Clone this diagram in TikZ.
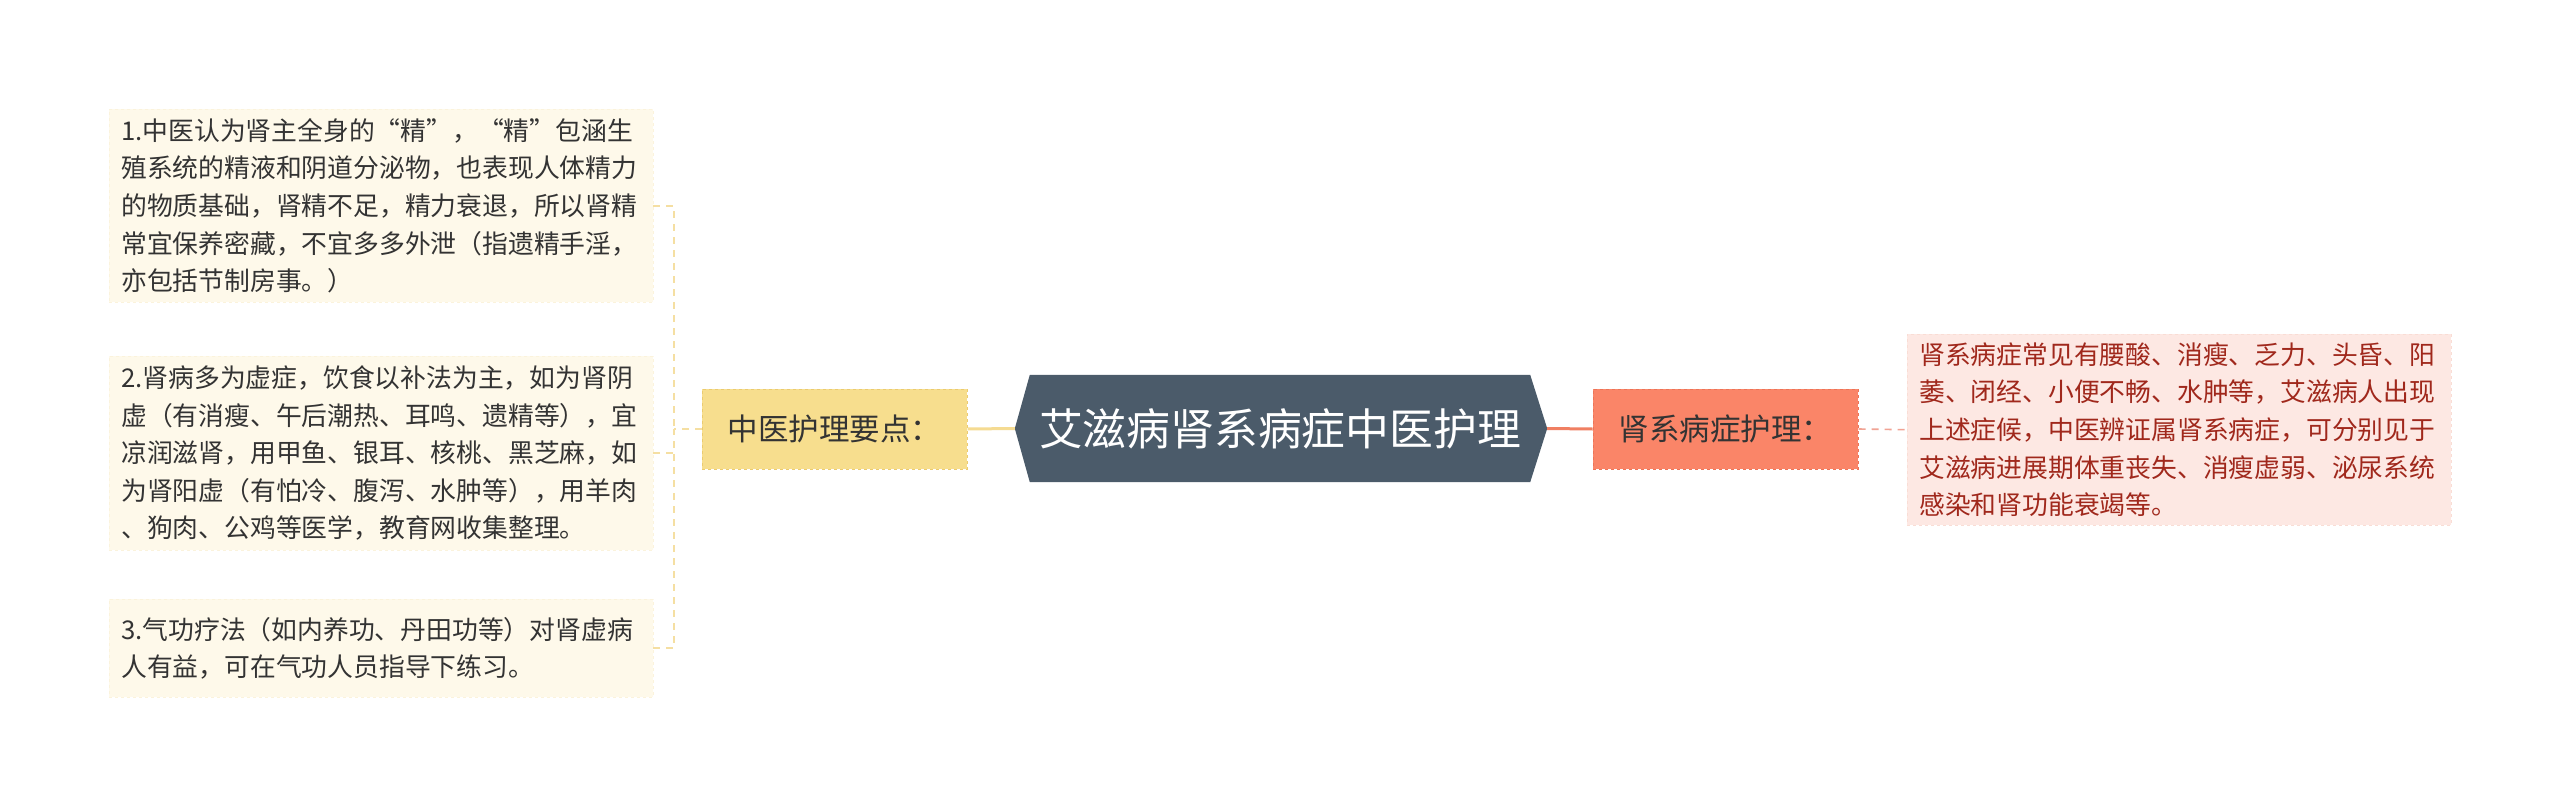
\documentclass[tikz,border=0pt]{standalone}
\usepackage{fontspec}
\newfontfamily\cjk{Noto Sans CJK SC}
\definecolor{titlebg}{HTML}{4B5B6A}
\definecolor{ybg}{HTML}{F7DE8E}
\definecolor{ybd}{HTML}{EBCB70}
\definecolor{cream}{HTML}{FEF9EA}
\definecolor{creambd}{HTML}{FBF3DC}
\definecolor{ylink}{HTML}{F5DB92}
\definecolor{ydash}{HTML}{F5DFA2}
\definecolor{sbg}{HTML}{FA8568}
\definecolor{sbd}{HTML}{EC7458}
\definecolor{pbg}{HTML}{FDE8E3}
\definecolor{pbd}{HTML}{F9DDD5}
\definecolor{ptext}{HTML}{A0281C}
\definecolor{rlink}{HTML}{F07F62}
\definecolor{rdash}{HTML}{F1A394}
\definecolor{dtext}{HTML}{333333}
\tikzset{
  leafL/.style={fill=cream, draw=creambd, dashed, text=dtext, anchor=north west, inner xsep=12pt, inner ysep=4pt,
    align=left, text width=520pt, font=\cjk\fontsize{25.8}{37.6}\selectfont},
  leafR/.style={fill=pbg, draw=pbd, dashed, text=ptext, anchor=north west, inner xsep=12pt, inner ysep=4pt,
    align=left, text width=520pt, font=\cjk\fontsize{25.8}{37.6}\selectfont},
  sub/.style={minimum height=80pt, inner sep=0pt, text=dtext, font=\cjk\fontsize{30.5}{36}\selectfont, dashed, line width=1pt},
  ydashline/.style={draw=ydash, dashed, line width=1.6pt, dash pattern=on 7pt off 6pt},
  rdashline/.style={draw=rdash, dashed, line width=1.6pt, dash pattern=on 7pt off 6pt},
}
\begin{document}
\begin{tikzpicture}[x=1pt,y=-1pt]
\useasboundingbox[fill=white] (0,0) rectangle (2560,808);
% centre
\node[minimum width=500pt, minimum height=107pt, inner sep=0pt, text=white, font=\cjk\fontsize{43.8}{50}\selectfont] (title) at (1280,428.5) {艾滋病肾系病症中医护理};
\coordinate (tipL) at ([xshift=-15pt]title.west);
\coordinate (tipR) at ([xshift=17pt]title.east);
\fill[titlebg] (title.north west) -- (title.north east) -- (tipR) -- (title.south east) -- (title.south west) -- (tipL) -- cycle;
\node[minimum width=500pt, minimum height=107pt, inner sep=0pt, text=white, font=\cjk\fontsize{43.8}{50}\selectfont] at (title.center) {艾滋病肾系病症中医护理};
% level 1
\node[sub, fill=ybg, draw=ybd, minimum width=265pt] (zy) at (834.5,429) {中医护理要点：};
\node[sub, fill=sbg, draw=sbd, minimum width=265pt] (sx) at (1725.5,429) {肾系病症护理：};
% leaves left
\node[leafL, minimum height=193pt] (b1) at (109,109) {1.中医认为肾主全身的“精”，“精”包涵生\\殖系统的精液和阴道分泌物，也表现人体精力\\的物质基础，肾精不足，精力衰退，所以肾精\\常宜保养密藏，不宜多多外泄（指遗精手淫，\\亦包括节制房事。）};
\node[leafL, minimum height=194pt] (b2) at (109,356) {2.肾病多为虚症，饮食以补法为主，如为肾阴\\虚（有消瘦、午后潮热、耳鸣、遗精等），宜\\凉润滋肾，用甲鱼、银耳、核桃、黑芝麻，如\\为肾阳虚（有怕冷、腹泻、水肿等），用羊肉\\、狗肉、公鸡等医学，教育网收集整理。};
\node[leafL, minimum height=98pt] (b3) at (109,599) {3.气功疗法（如内养功、丹田功等）对肾虚病\\人有益，可在气功人员指导下练习。};
% leaf right
\node[leafR, minimum height=191pt] (r1) at (1907,334) {肾系病症常见有腰酸、消瘦、乏力、头昏、阳\\萎、闭经、小便不畅、水肿等，艾滋病人出现\\上述症候，中医辨证属肾系病症，可分别见于\\艾滋病进展期体重丧失、消瘦虚弱、泌尿系统\\感染和肾功能衰竭等。};
% connectors
\draw[ylink, line width=3pt] (tipL) -- (zy.east);
\draw[rlink, line width=3pt] (tipR) -- (sx.west);
\coordinate (jL) at (674,429);
\draw[ydashline] (zy.west) -- (jL);
\draw[ydashline] (b1.east) -- (b1.east -| jL) -- (jL);
\draw[ydashline] (b3.east) -- (b3.east -| jL) -- (jL);
\draw[ydashline] (b2.east) -- (b2.east -| jL);
\draw[rdashline] (sx.east) -- (r1.west);
\end{tikzpicture}
\end{document}
